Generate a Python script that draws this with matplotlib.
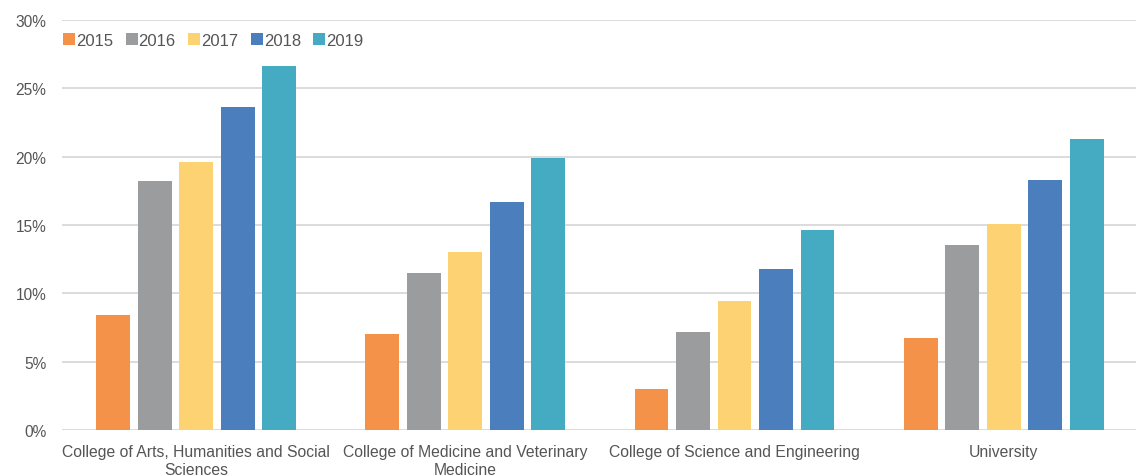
import numpy as np
import matplotlib.pyplot as plt
from matplotlib.ticker import FuncFormatter

categories = ["College of Arts, Humanities and Social\nSciences",
              "College of Medicine and Veterinary\nMedicine",
              "College of Science and Engineering",
              "University"]
years = ["2015", "2016", "2017", "2018", "2019"]
values = {
    "2015": [8.4, 7.0, 3.0, 6.7],
    "2016": [18.2, 11.5, 7.2, 13.5],
    "2017": [19.6, 13.0, 9.4, 15.1],
    "2018": [23.6, 16.7, 11.8, 18.3],
    "2019": [26.6, 19.9, 14.6, 21.3],
}
colors = ["#F4924A", "#9A9C9E", "#FCD273", "#4B7EBC", "#44ABC3"]

plt.rcParams['font.family'] = ['Liberation Sans', 'DejaVu Sans']
text_color = "#555555"

fig = plt.figure(figsize=(11.36, 4.77), dpi=100)
ax = fig.add_axes([0.0543, 0.0964, 0.9476, 0.86])

x = np.arange(len(categories))
pitch = 0.1542
width = 0.126
for i, yr in enumerate(years):
    ax.bar(x + (i - 2) * pitch, values[yr], width, color=colors[i], label=yr, zorder=3)

ax.set_xlim(-0.5, 3.5)
ax.set_ylim(0, 30)
ax.set_yticks(np.arange(0, 31, 5))
ax.yaxis.set_major_formatter(FuncFormatter(lambda v, p: "%d%%" % v))
ax.grid(axis='y', color="#D9D9D9", linewidth=1.3, zorder=0)
for s in ax.spines.values():
    s.set_visible(False)
ax.tick_params(axis='both', length=0, colors=text_color, labelsize=11.2)
ax.tick_params(axis='y', pad=11)
ax.tick_params(axis='x', pad=10)
ax.set_xticks(x)
ax.set_xticklabels(categories, fontsize=11.3, color=text_color, linespacing=1.25)

leg = ax.legend(loc='upper left', bbox_to_anchor=(-0.005, 0.985), ncol=5, frameon=False,
                handlelength=0.72, handleheight=0.72, handletextpad=0.06, columnspacing=0.75,
                borderaxespad=0, fontsize=12)
for t in leg.get_texts():
    t.set_color(text_color)

fig.savefig("out.png", dpi=100)
